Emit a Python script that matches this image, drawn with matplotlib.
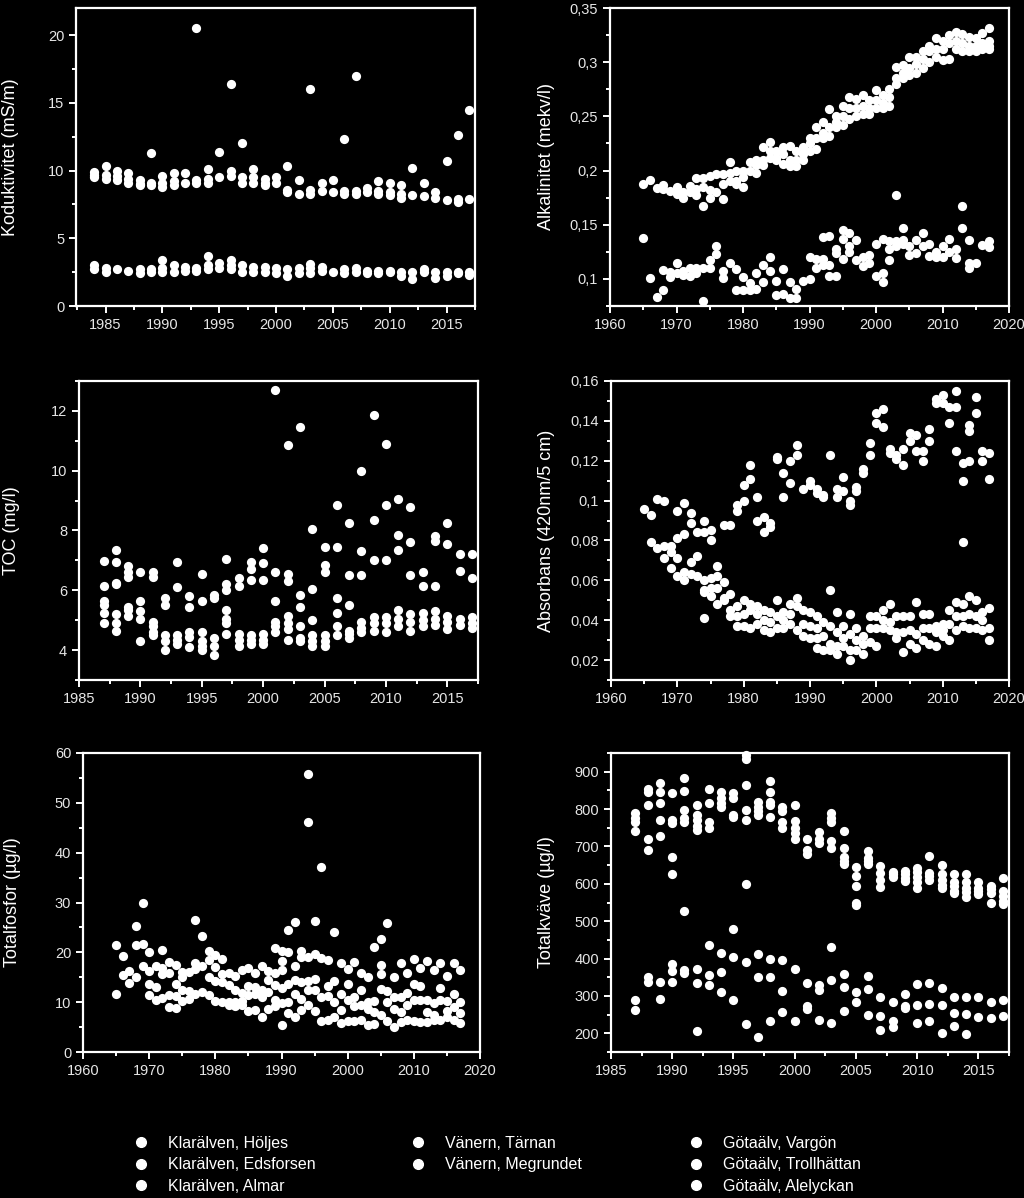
import matplotlib
matplotlib.use("Agg")
import matplotlib.pyplot as plt
from matplotlib.ticker import MultipleLocator, AutoMinorLocator, FuncFormatter
from matplotlib.lines import Line2D

plt.rcParams['font.family'] = ['Liberation Sans', 'DejaVu Sans']

stationer = ['Klarälven, Höljes', 'Klarälven, Edsforsen', 'Klarälven, Almar',
             'Vänern, Tärnan', 'Vänern, Megrundet',
             'Götaälv, Vargön', 'Götaälv, Trollhättan', 'Götaälv, Alelyckan']

# Konduktivitet (mS/m), 1984-2017
kond_ar = list(range(1984, 2018))
kond_varden = [
    [9.9, 9.7, 9.5, 3.0, 2.7], [10.3, 9.7, 9.4, 2.8, 2.5], [10.0, 9.6, 9.3, 2.7],
    [9.8, 9.4, 9.1, 2.6], [9.3, 9.0, 8.9, 2.7, 2.4], [11.3, 9.1, 8.9, 2.7, 2.5],
    [9.6, 9.1, 8.8, 3.4, 2.8, 2.5], [9.8, 9.2, 8.9, 3.0, 2.5], [9.8, 9.1, 2.9, 2.6],
    [20.5, 9.3, 9.1, 2.8, 2.6], [10.1, 9.4, 9.1, 3.7, 3.0, 2.7], [11.4, 9.5, 3.2, 2.8],
    [16.4, 10.0, 9.6, 3.4, 3.0, 2.7], [12.0, 9.5, 9.1, 3.0, 2.5], [10.1, 9.5, 9.1, 2.9, 2.5],
    [9.4, 9.1, 8.9, 2.9, 2.5], [9.5, 9.1, 2.8, 2.4], [10.3, 8.6, 8.4, 2.7, 2.2],
    [9.3, 8.3, 2.8, 2.4], [16.0, 8.6, 8.3, 3.1, 2.8, 2.4], [9.1, 8.5, 2.9, 2.6],
    [9.3, 8.4, 2.5], [12.3, 8.5, 8.3, 2.7, 2.4], [17.0, 8.5, 8.3, 2.8, 2.5],
    [8.7, 8.4, 2.6, 2.4], [9.2, 8.5, 8.3, 2.6, 2.4], [9.1, 8.4, 8.2, 2.6, 2.5],
    [8.9, 8.3, 8.0, 2.5, 2.2], [10.2, 8.2, 2.5, 2.0], [9.1, 8.1, 2.7, 2.5],
    [8.4, 8.0, 2.5, 2.1], [10.7, 7.8, 2.5, 2.2], [12.6, 7.9, 7.7, 2.5, 2.4],
    [14.5, 7.9, 2.5, 2.3],
]

# Alkalinitet (mekv/l), 1965-2017
alk_ar = list(range(1965, 2018))
alk_varden = [
    [0.188, 0.138], [0.191, 0.101], [0.184, 0.083], [0.187, 0.183, 0.108, 0.09],
    [0.181, 0.106, 0.102], [0.185, 0.178, 0.115, 0.105], [0.18, 0.175, 0.107, 0.104],
    [0.186, 0.18, 0.11, 0.103], [0.193, 0.183, 0.177, 0.11, 0.105],
    [0.193, 0.185, 0.167, 0.11, 0.08], [0.195, 0.182, 0.175, 0.117, 0.11],
    [0.197, 0.18, 0.13, 0.123], [0.197, 0.188, 0.174, 0.107, 0.101],
    [0.208, 0.198, 0.19, 0.115], [0.2, 0.19, 0.188, 0.109, 0.09],
    [0.2, 0.194, 0.185, 0.102, 0.09], [0.208, 0.2, 0.096, 0.09],
    [0.21, 0.205, 0.198, 0.105, 0.091], [0.222, 0.21, 0.205, 0.113, 0.097],
    [0.226, 0.218, 0.212, 0.12, 0.107], [0.218, 0.212, 0.21, 0.098, 0.085],
    [0.222, 0.215, 0.206, 0.109, 0.086], [0.223, 0.21, 0.204, 0.097, 0.082],
    [0.218, 0.21, 0.204, 0.091, 0.082], [0.222, 0.215, 0.21, 0.098],
    [0.23, 0.225, 0.218, 0.12, 0.1], [0.24, 0.23, 0.22, 0.118, 0.11],
    [0.245, 0.235, 0.23, 0.139, 0.118, 0.113], [0.257, 0.24, 0.232, 0.14, 0.113, 0.103],
    [0.25, 0.245, 0.24, 0.128, 0.124, 0.103], [0.26, 0.25, 0.242, 0.145, 0.137, 0.118],
    [0.268, 0.258, 0.248, 0.142, 0.13, 0.125], [0.266, 0.258, 0.25, 0.136, 0.117],
    [0.27, 0.26, 0.252, 0.12, 0.112], [0.265, 0.258, 0.252, 0.122, 0.115],
    [0.274, 0.265, 0.258, 0.132, 0.103], [0.27, 0.262, 0.258, 0.137, 0.105, 0.097],
    [0.275, 0.268, 0.26, 0.135, 0.128, 0.117], [0.296, 0.285, 0.28, 0.177, 0.135, 0.13],
    [0.297, 0.29, 0.285, 0.147, 0.136, 0.132], [0.305, 0.295, 0.288, 0.13, 0.122],
    [0.305, 0.298, 0.29, 0.136, 0.124], [0.31, 0.303, 0.295, 0.142, 0.13],
    [0.315, 0.31, 0.3, 0.132, 0.121], [0.322, 0.312, 0.305, 0.125, 0.12],
    [0.32, 0.312, 0.302, 0.13, 0.12], [0.325, 0.318, 0.303, 0.137, 0.125],
    [0.328, 0.32, 0.312, 0.128, 0.119], [0.326, 0.318, 0.31, 0.167, 0.147],
    [0.323, 0.315, 0.31, 0.136, 0.115, 0.11], [0.322, 0.315, 0.31, 0.115],
    [0.327, 0.318, 0.312, 0.131], [0.332, 0.32, 0.315, 0.312, 0.135, 0.129],
]

# TOC (mg/l), 1987-2017
toc_ar = list(range(1987, 2018))
toc_varden = [
    [6.97, 6.15, 5.65, 5.5, 5.25, 4.9], [7.35, 6.95, 6.25, 6.2, 5.2, 4.9, 4.65],
    [6.8, 6.6, 6.45, 5.45, 5.35, 5.15], [6.6, 5.65, 5.3, 5.05, 4.3],
    [6.6, 6.45, 4.95, 4.8, 4.6, 4.5], [5.75, 5.5, 4.5, 4.3, 4.0],
    [6.95, 6.1, 4.5, 4.35, 4.2], [5.8, 5.45, 4.6, 4.45, 4.1],
    [6.55, 5.65, 4.6, 4.3, 4.15, 4.0], [5.85, 5.75, 4.4, 4.15, 3.85],
    [7.05, 6.2, 6.0, 5.35, 5.05, 4.9, 4.55], [6.4, 6.15, 4.55, 4.35, 4.15],
    [6.95, 6.7, 6.35, 4.5, 4.35, 4.2], [7.4, 6.9, 6.35, 4.55, 4.35, 4.2],
    [12.7, 6.6, 5.65, 4.95, 4.8, 4.6], [10.85, 6.55, 6.3, 5.15, 4.9, 4.7, 4.35],
    [11.45, 5.85, 5.45, 4.8, 4.4, 4.3], [8.05, 6.05, 5.0, 4.5, 4.3, 4.15],
    [7.45, 6.85, 6.6, 4.5, 4.3, 4.15], [8.85, 7.45, 5.75, 5.25, 4.8, 4.5],
    [8.25, 6.5, 5.5, 4.65, 4.55, 4.4], [10.0, 7.3, 6.5, 4.95, 4.75, 4.6],
    [11.85, 8.35, 7.0, 5.1, 4.9, 4.65], [10.9, 8.85, 7.0, 5.1, 4.9, 4.6],
    [9.05, 7.85, 7.35, 5.35, 5.05, 4.8], [8.8, 7.6, 6.5, 5.2, 4.95, 4.65],
    [6.6, 6.15, 5.25, 5.0, 4.8], [7.8, 7.65, 6.15, 5.3, 5.05, 4.85],
    [8.25, 7.55, 5.15, 4.95, 4.7], [7.2, 6.65, 5.05, 4.85],
    [7.2, 6.4, 5.1, 4.9, 4.75],
]

# Absorbans (420nm/5 cm), 1965-2017
abs_ar = list(range(1965, 2018))
abs_varden = [
    [0.096], [0.093, 0.079], [0.101, 0.076], [0.1, 0.077, 0.071], [0.077, 0.074, 0.066],
    [0.095, 0.081, 0.071, 0.062], [0.099, 0.083, 0.064, 0.06], [0.094, 0.089, 0.069, 0.063],
    [0.084, 0.072, 0.062], [0.09, 0.084, 0.06, 0.055, 0.054, 0.041],
    [0.085, 0.08, 0.061, 0.056, 0.052], [0.067, 0.062, 0.056, 0.048],
    [0.088, 0.059, 0.051, 0.05], [0.088, 0.053, 0.045, 0.042],
    [0.098, 0.095, 0.047, 0.042, 0.037], [0.108, 0.1, 0.05, 0.043, 0.037],
    [0.118, 0.111, 0.048, 0.045, 0.036], [0.102, 0.09, 0.047, 0.043, 0.038],
    [0.092, 0.084, 0.045, 0.04, 0.035], [0.089, 0.087, 0.044, 0.039, 0.034],
    [0.122, 0.121, 0.05, 0.042, 0.036], [0.114, 0.102, 0.044, 0.04, 0.036],
    [0.12, 0.109, 0.048, 0.043, 0.038], [0.128, 0.123, 0.051, 0.047, 0.035],
    [0.106, 0.045, 0.038, 0.032], [0.11, 0.108, 0.044, 0.037, 0.031],
    [0.106, 0.104, 0.042, 0.036, 0.031, 0.026], [0.103, 0.102, 0.039, 0.032, 0.025],
    [0.123, 0.055, 0.037, 0.028, 0.025], [0.106, 0.102, 0.044, 0.034, 0.027, 0.023],
    [0.112, 0.105, 0.037, 0.031, 0.027], [0.1, 0.098, 0.043, 0.033, 0.025, 0.02],
    [0.107, 0.105, 0.036, 0.03, 0.025], [0.116, 0.114, 0.032, 0.028, 0.023],
    [0.129, 0.123, 0.042, 0.036, 0.029], [0.144, 0.139, 0.042, 0.036, 0.027],
    [0.146, 0.137, 0.045, 0.04, 0.036], [0.126, 0.124, 0.048, 0.039, 0.035],
    [0.123, 0.121, 0.042, 0.034, 0.031], [0.126, 0.118, 0.042, 0.034, 0.024],
    [0.134, 0.13, 0.042, 0.035, 0.028], [0.133, 0.125, 0.049, 0.033, 0.026],
    [0.125, 0.12, 0.043, 0.036, 0.03], [0.136, 0.13, 0.043, 0.036, 0.028],
    [0.151, 0.149, 0.037, 0.034, 0.027], [0.153, 0.149, 0.038, 0.035, 0.032],
    [0.147, 0.139, 0.045, 0.038, 0.03], [0.155, 0.147, 0.125, 0.049, 0.042, 0.035],
    [0.119, 0.11, 0.079, 0.048, 0.042, 0.037], [0.138, 0.135, 0.12, 0.052, 0.043, 0.036],
    [0.152, 0.144, 0.05, 0.042, 0.036], [0.125, 0.12, 0.044, 0.04, 0.035],
    [0.124, 0.111, 0.046, 0.036, 0.03],
]

# Totalfosfor (µg/l), 1965-2017
fosfor_ar = list(range(1965, 2018))
fosfor_varden = [
    [21.5, 11.7], [19.2, 15.4], [16.3, 13.9], [25.3, 21.4, 15.0], [29.8, 21.6, 17.2],
    [20.1, 16.2, 13.6, 11.5], [17.3, 13.1, 10.5], [20.5, 16.9, 15.7, 10.8],
    [18.0, 15.8, 11.5, 9.0], [17.4, 13.6, 11.2, 8.8], [16.0, 15.0, 12.5, 10.3],
    [16.0, 12.3, 10.6], [26.5, 17.9, 16.6, 11.6], [23.3, 17.3, 12.0],
    [20.3, 18.5, 15.0, 11.4], [19.4, 17.1, 14.3, 10.2], [18.6, 15.6, 14.1, 10.1],
    [15.8, 13.5, 10.0, 9.5], [15.2, 12.5, 10.0, 9.3], [16.4, 11.8, 10.2, 9.5],
    [16.8, 13.2, 11.5, 8.2], [15.8, 13.0, 11.7, 8.5], [17.2, 12.5, 11.0, 7.0],
    [16.3, 14.5, 12.0, 8.6], [20.8, 15.8, 13.5, 10.5, 9.3],
    [20.2, 18.3, 16.5, 12.9, 9.8, 5.4], [24.4, 20.0, 13.6, 10.0, 7.8],
    [26.1, 17.3, 14.4, 11.6, 7.0], [20.2, 19.0, 14.0, 10.6, 8.4],
    [55.7, 46.1, 19.0, 14.2, 12.5, 9.5], [26.2, 19.7, 14.7, 12.4, 8.2],
    [37.1, 18.9, 11.0, 6.2], [18.4, 13.3, 11.3, 6.4], [24.1, 14.3, 10.0, 7.0],
    [17.9, 11.7, 8.5, 5.9], [16.7, 13.7, 10.4, 6.2], [18.0, 11.0, 9.2, 6.3],
    [15.9, 12.5, 9.5, 6.4], [15.1, 10.0, 8.7, 5.5], [21.1, 10.2, 8.0, 5.6],
    [22.7, 17.4, 15.6, 12.6, 7.5], [25.9, 12.3, 10.0, 6.3], [15.0, 11.0, 8.6, 5.0],
    [17.9, 11.0, 8.0, 6.0], [15.9, 11.8, 9.5, 6.5], [18.6, 13.7, 10.5, 6.2],
    [16.9, 13.2, 10.5, 6.1], [18.3, 10.5, 8.0, 6.0], [16.5, 9.9, 7.5, 6.5],
    [17.9, 12.9, 10.5, 6.5], [15.3, 10.3, 8.2, 7.0], [17.9, 11.6, 9.0, 6.5],
    [16.4, 10.0, 7.8, 5.9],
]

# Totalkväve (µg/l), 1987-2017
kvave_ar = list(range(1987, 2018))
kvave_varden = [
    [790, 775, 765, 740, 290, 263], [855, 845, 810, 720, 690, 350, 337],
    [870, 845, 815, 770, 728, 338, 292], [843, 770, 762, 673, 627, 385, 367, 336],
    [883, 848, 797, 775, 765, 527, 370, 362], [812, 785, 770, 755, 745, 373, 335, 205],
    [855, 815, 765, 748, 435, 357, 330], [845, 830, 815, 805, 415, 363, 310],
    [843, 830, 785, 780, 480, 403, 290], [945, 935, 865, 797, 772, 600, 390, 225],
    [818, 805, 795, 785, 412, 352, 190], [875, 845, 820, 810, 780, 400, 350, 232],
    [805, 795, 765, 748, 395, 312, 257], [812, 768, 750, 735, 720, 373, 233],
    [720, 690, 680, 335, 272, 265], [738, 720, 708, 330, 315, 235],
    [790, 775, 765, 715, 695, 432, 342, 228], [740, 695, 672, 660, 652, 360, 325, 260],
    [645, 620, 595, 548, 543, 310, 285], [688, 670, 660, 652, 353, 318, 250],
    [648, 630, 610, 592, 298, 247, 208], [632, 625, 618, 285, 232, 218],
    [635, 625, 615, 608, 305, 272, 268], [643, 632, 618, 605, 590, 333, 275, 227],
    [675, 630, 620, 610, 335, 278, 233], [650, 625, 610, 598, 590, 320, 275, 200],
    [625, 605, 595, 580, 575, 298, 255, 220], [625, 605, 590, 578, 565, 298, 252, 198],
    [605, 590, 580, 572, 298, 243], [595, 585, 575, 548, 285, 240],
    [615, 580, 568, 555, 545, 290, 245],
]

W, H = 1024, 1198
fig = plt.figure(figsize=(W / 100, H / 100), dpi=100, facecolor='black')

komma = FuncFormatter(lambda v, p: ('%g' % round(v, 6)).replace('.', ','))


def ax_pixel(left, top, right, bottom):
    ax = fig.add_axes([left / W, 1 - bottom / H, (right - left) / W, (bottom - top) / H])
    ax.set_facecolor('black')
    for s in ax.spines.values():
        s.set_color('white')
        s.set_linewidth(1.6)
    ax.tick_params(which='both', direction='out', colors='white', labelcolor='#e6e6e6',
                   labelsize=10.5, width=1.4)
    ax.tick_params(which='major', length=5)
    ax.tick_params(which='minor', length=3)
    return ax


def rita(ax, ar, varden, xlim, ylim, xstep, ystep, ylabel, labx):
    xs = [a for a, v in zip(ar, varden) for _ in v]
    ys = [y for v in varden for y in v]
    ax.scatter(xs, ys, s=44, color='white', linewidths=0, zorder=3, clip_on=False)
    ax.set_xlim(*xlim)
    ax.set_ylim(*ylim)
    ax.xaxis.set_major_locator(MultipleLocator(xstep))
    ax.yaxis.set_major_locator(MultipleLocator(ystep))
    ax.xaxis.set_minor_locator(AutoMinorLocator(2))
    ax.yaxis.set_minor_locator(AutoMinorLocator(2))
    ax.yaxis.set_major_formatter(komma)
    ax.set_ylabel(ylabel, color='white', fontsize=13)
    ax.yaxis.set_label_coords(labx, 0.5)


ax1 = ax_pixel(76, 8, 475, 306)
rita(ax1, kond_ar, kond_varden, (1982.4, 2017.5), (0, 22), 5, 5,
     'Koduktivitet (mS/m)', -0.143)

ax2 = ax_pixel(610, 8, 1009, 306)
rita(ax2, alk_ar, alk_varden, (1960, 2020), (0.075, 0.35), 10, 0.05,
     'Alkalinitet (mekv/l)', -0.137)

ax3 = ax_pixel(79, 381, 478, 680)
rita(ax3, toc_ar, toc_varden, (1985, 2017.5), (3, 13), 5, 2,
     'TOC (mg/l)', -0.148)

ax4 = ax_pixel(611, 381, 1009, 680)
rita(ax4, abs_ar, abs_varden, (1960, 2020), (0.01, 0.16), 10, 0.02,
     'Absorbans (420nm/5 cm)', -0.14)

ax5 = ax_pixel(83, 753, 480, 1052)
rita(ax5, fosfor_ar, fosfor_varden, (1960, 2020), (0, 60), 10, 10,
     'Totalfosfor (µg/l)', -0.156)

ax6 = ax_pixel(611, 753, 1009, 1052)
rita(ax6, kvave_ar, kvave_varden, (1985, 2017.5), (150, 950), 5, 100,
     'Totalkväve (µg/l)', -0.14)

# legend in three columns
kolumner = [stationer[0:3], stationer[3:5], stationer[5:8]]
kol_x = [127, 404, 682]
for namn, x in zip(kolumner, kol_x):
    handles = [Line2D([], [], marker='o', color='white', ls='', markersize=7) for _ in namn]
    fig.legend(handles, namn, loc='upper left', bbox_to_anchor=(x / W, 1 - 1128 / H),
               frameon=False, borderpad=0, handlelength=0.8, handletextpad=1.25,
               labelspacing=0.4, fontsize=11.5, labelcolor='white')

fig.savefig('out.png', dpi=100, facecolor='black')
